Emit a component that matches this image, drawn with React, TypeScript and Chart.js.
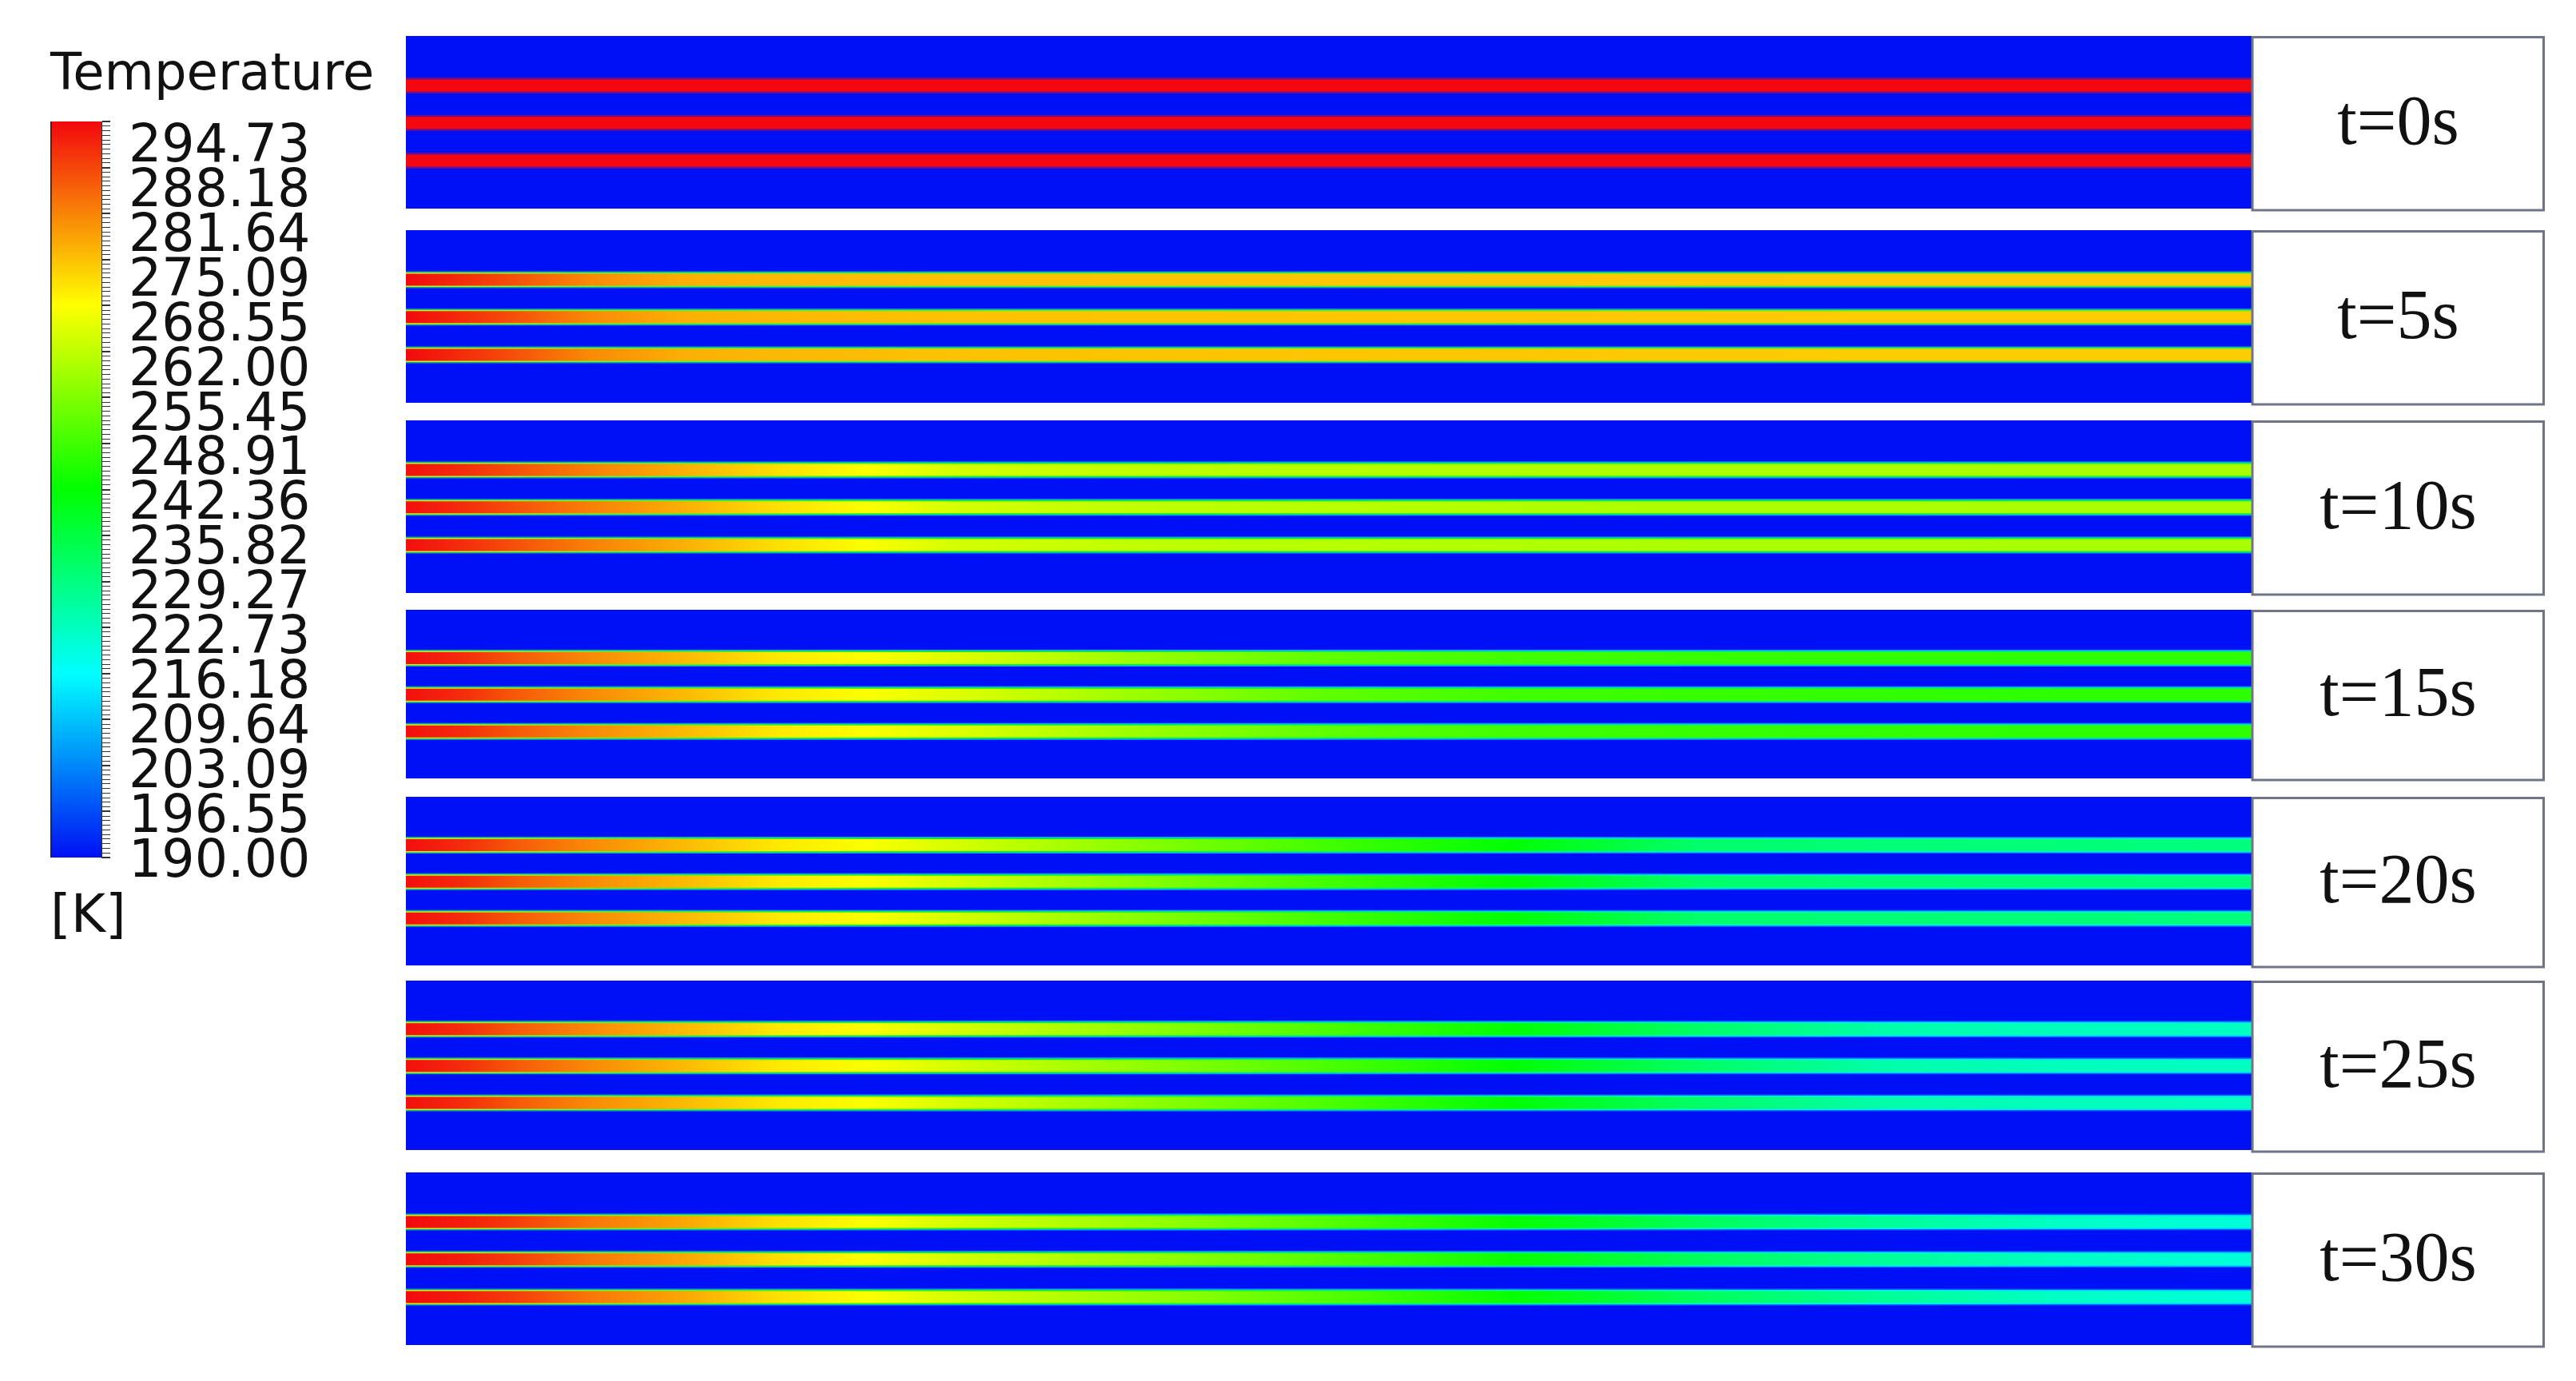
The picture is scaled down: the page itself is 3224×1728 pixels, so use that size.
import React, { useEffect, useRef } from 'react';
import { Chart, registerables } from 'chart.js';

Chart.register(...registerables);

// ---------------- data ----------------
const legendTitle = 'Temperature';
const legendUnit = '[K]';
const tempMin = 190.0;
const tempMax = 294.73;
const legendTickLabels = [
  '294.73', '288.18', '281.64', '275.09', '268.55', '262.00', '255.45', '248.91',
  '242.36', '235.82', '229.27', '222.73', '216.18', '209.64', '203.09', '196.55', '190.00',
];
const legendTickValues = legendTickLabels.map(Number);

const timeLabels = ['t=0s', 't=5s', 't=10s', 't=15s', 't=20s', 't=25s', 't=30s'];

// axial position along the domain (fraction of length)
const axialPositions = [0, 0.03, 0.06, 0.1, 0.15, 0.2, 0.25, 0.3, 0.4, 0.5, 0.6, 0.7, 0.8, 0.9, 1.0];
// channel centre heights (fraction of domain height, from bottom)
const channelHeights = [0.713, 0.496, 0.278];

// channel core temperature [K] along the axial positions, per time
const tempT0 = [294.73, 294.73, 294.73, 294.73, 294.73, 294.73, 294.73, 294.73, 294.73, 294.73, 294.73, 294.73, 294.73, 294.73, 294.73];
const tempT5 = [294.5, 291, 287, 281, 277, 276, 275.5, 275, 274.8, 274.6, 274.4, 274.2, 274, 274, 274];
const tempT10 = [294, 291, 287, 282, 277, 272, 268, 264, 262, 261, 260.5, 260, 260, 259.5, 259.5];
const tempT15 = [294, 291, 286, 281, 276, 271, 268, 265, 258, 252, 249, 248, 247.5, 247, 247];
const tempT20 = [294, 291, 286, 281, 276, 271, 268, 264, 256, 249, 242, 231.5, 230.5, 230, 229.5];
const tempT25 = [294, 291, 286, 281, 276, 271, 268, 264, 257, 250, 242, 232, 225, 223, 222.5];
const tempT30 = [294.5, 292.5, 289, 283, 278, 272, 268, 264, 258, 251, 243, 233, 227, 222, 220];
const panelTemps = [tempT0, tempT5, tempT10, tempT15, tempT20, tempT25, tempT30];

// ---------------- layout / style ----------------
const PANEL_LEFT = 508;
const CONTOUR_W = 2310;
const BOX_W = 367;
const PANEL_CANVAS_W = 2680;
const panelTops = [45, 288, 526, 763, 997, 1227, 1467];
const panelHeights = [216, 216, 216, 211, 211, 212, 216];

const JET: number[][] = [
  [0, 16, 244],
  [0, 255, 255],
  [0, 255, 0],
  [255, 255, 0],
  [242, 8, 14],
];
const BG_BLUE = 'rgb(0,16,244)';

function jetRGB(t: number): number[] {
  let f = (t - tempMin) / (tempMax - tempMin);
  f = Math.max(0, Math.min(1, f));
  const s = f * 4;
  const i = Math.min(3, Math.floor(s));
  const r = s - i;
  const a = JET[i];
  const b = JET[i + 1];
  return [0, 1, 2].map((k) => Math.round(a[k] + (b[k] - a[k]) * r));
}
function rgba(c: number[], a: number) {
  return `rgba(${c[0]},${c[1]},${c[2]},${a})`;
}

function stripeGradient(chart: any, temps: number[], level: number, alpha: number) {
  const { ctx, chartArea, scales } = chart;
  if (!chartArea || !scales || !scales.x) return rgba(jetRGB(temps[0]), alpha);
  const xs = scales.x;
  const p0 = xs.getPixelForValue(axialPositions[0]);
  const p1 = xs.getPixelForValue(axialPositions[axialPositions.length - 1]);
  const g = ctx.createLinearGradient(p0, 0, p1, 0);
  axialPositions.forEach((x: number, i: number) => {
    const t = tempMin + level * (temps[i] - tempMin);
    const off = (xs.getPixelForValue(x) - p0) / (p1 - p0);
    g.addColorStop(Math.max(0, Math.min(1, off)), rgba(jetRGB(t), alpha));
  });
  return g;
}

const panelDeco = {
  id: 'panelDeco',
  beforeDraw(chart: any) {
    const { ctx, chartArea } = chart;
    ctx.save();
    ctx.fillStyle = BG_BLUE;
    ctx.fillRect(chartArea.left, chartArea.top, chartArea.right - chartArea.left, chartArea.bottom - chartArea.top);
    ctx.restore();
  },
  afterDraw(chart: any, _args: any, opts: any) {
    const { ctx, chartArea } = chart;
    const x0 = chartArea.right;
    const x1 = chartArea.right + opts.boxWidth;
    const y0 = chartArea.top + 1.5;
    const y1 = chartArea.bottom + 2;
    ctx.save();
    ctx.strokeStyle = '#6f7486';
    ctx.lineWidth = 3;
    ctx.strokeRect(x0 + 1, y0, x1 - x0 - 2.5, y1 - y0);
    ctx.fillStyle = '#111';
    ctx.font = '88px "Liberation Serif", "Times New Roman", serif';
    ctx.textAlign = 'center';
    ctx.textBaseline = 'middle';
    ctx.fillText(opts.label, (x0 + x1) / 2, (y0 + y1) / 2 + 2);
    ctx.restore();
  },
};

function Panel({ index }: { index: number }) {
  const ref = useRef<HTMLCanvasElement>(null);
  useEffect(() => {
    const temps = panelTemps[index];
    const uniform = temps.every((v) => v === temps[0]);
    // outer glow first, core last; `order` puts the core on top
    const layers = uniform
      ? [
          { width: 20, level: 1, alpha: 0.45 },
          { width: 15, level: 1, alpha: 1 },
        ]
      : [
          { width: 21, level: 0.4, alpha: 0.65 },
          { width: 18, level: 0.72, alpha: 0.9 },
          { width: 15, level: 1, alpha: 1 },
        ];
    const datasets: any[] = [];
    channelHeights.forEach((h) => {
      layers.forEach((L, li) => {
        datasets.push({
          data: axialPositions.map((x) => ({ x, y: h })),
          order: layers.length - li,
          borderWidth: L.width,
          borderColor: (c: any) => stripeGradient(c.chart, temps, L.level, L.alpha),
          pointRadius: 0,
          pointHoverRadius: 0,
          tension: 0,
          borderCapStyle: 'butt',
          fill: false,
        });
      });
    });
    const chart = new Chart(ref.current as HTMLCanvasElement, {
      type: 'line',
      data: { datasets },
      plugins: [panelDeco],
      options: {
        responsive: false,
        animation: false,
        layout: { padding: { left: 0, top: 0, right: PANEL_CANVAS_W - CONTOUR_W, bottom: 4 } },
        scales: {
          x: { type: 'linear', min: 0, max: 1, display: false },
          y: { type: 'linear', min: 0, max: 1, display: false },
        },
        plugins: {
          legend: { display: false },
          tooltip: { enabled: false },
          panelDeco: { label: timeLabels[index], boxWidth: BOX_W },
        } as any,
        events: [],
      },
    } as any);
    return () => chart.destroy();
  }, [index]);
  return (
    <canvas
      ref={ref}
      width={PANEL_CANVAS_W}
      height={panelHeights[index] + 4}
      style={{
        position: 'absolute',
        left: PANEL_LEFT,
        top: panelTops[index],
        width: PANEL_CANVAS_W,
        height: panelHeights[index] + 4,
      }}
    />
  );
}

// colour bar geometry
const CB_W = 520;
const CB_H = 1200;
const BAR_RIGHT = 127;
const TICK_AXIS_W = 14;
const LABEL_AXIS_W = 360;
const BAR_TOP = 152;
const BAR_BOTTOM = 1073;
const LABEL_TICK_TOP = 165;
const LABEL_TICK_BOTTOM = 1060;
const LABEL_OFFSET = 20;

function ColorBar() {
  const ref = useRef<HTMLCanvasElement>(null);
  useEffect(() => {
    const k = (LABEL_TICK_BOTTOM - LABEL_TICK_TOP) / (tempMax - tempMin);
    const y2Max = tempMax + (LABEL_TICK_TOP - BAR_TOP) / k;
    const y2Min = tempMin - (BAR_BOTTOM - LABEL_TICK_BOTTOM) / k;
    const minor: number[] = [];
    const sub = 10;
    const step = (tempMax - tempMin) / (legendTickValues.length - 1) / sub;
    const nMinor = (legendTickValues.length - 1) * sub;
    for (let i = 0; i <= nMinor; i++) minor.push(tempMin + i * step);

    const titleSize = 64;
    const titleLine = titleSize * 1.2;

    const chart = new Chart(ref.current as HTMLCanvasElement, {
      type: 'bar',
      data: {
        labels: [legendTitle],
        datasets: [
          {
            data: [[tempMin, tempMax]],
            yAxisID: 'y',
            barPercentage: 1,
            categoryPercentage: 1,
            borderSkipped: false,
            borderWidth: { left: 2, top: 0, right: 0, bottom: 0 },
            borderColor: '#222',
            backgroundColor: (c: any) => {
              const ch = c.chart;
              if (!ch.chartArea || !ch.scales.y) return 'blue';
              const y = ch.scales.y;
              const g = ch.ctx.createLinearGradient(0, y.getPixelForValue(tempMin), 0, y.getPixelForValue(tempMax));
              for (let i = 0; i <= 4; i++) g.addColorStop(i / 4, rgba(JET[i], 1));
              return g;
            },
          },
        ],
      },
      options: {
        responsive: false,
        animation: false,
        events: [],
        layout: {
          padding: {
            left: 63,
            top: 95 - titleLine / 2,
            right: CB_W - BAR_RIGHT - TICK_AXIS_W - LABEL_AXIS_W,
            bottom: CB_H - BAR_BOTTOM - 36 - 79.2,
          },
        },
        scales: {
          x: { type: 'category', display: false },
          y: {
            type: 'linear',
            position: 'right',
            weight: 0,
            min: tempMin,
            max: tempMax,
            afterBuildTicks: (s: any) => {
              s.ticks = minor.map((v) => ({ value: v }));
            },
            afterFit: (s: any) => {
              s.width = TICK_AXIS_W;
            },
            ticks: { display: false, autoSkip: false },
            grid: {
              drawOnChartArea: false,
              drawTicks: true,
              tickLength: 11,
              color: '#333',
              lineWidth: (c: any) => (c.index % sub === 0 ? 2 : 1),
            },
            border: { display: true, color: '#333', width: 1 },
          },
          y2: {
            type: 'linear',
            position: 'right',
            weight: 1,
            min: y2Min,
            max: y2Max,
            afterBuildTicks: (s: any) => {
              s.ticks = legendTickValues.map((v) => ({ value: v }));
            },
            afterFit: (s: any) => {
              s.width = LABEL_AXIS_W;
            },
            ticks: {
              autoSkip: false,
              padding: 12,
              labelOffset: LABEL_OFFSET,
              color: '#111',
              font: { family: '"DejaVu Sans", sans-serif', size: 65, weight: 'normal' },
              callback: (_v: any, i: number) => legendTickLabels[i],
            },
            grid: { display: false },
            border: { display: false },
          },
        },
        plugins: {
          legend: { display: false },
          tooltip: { enabled: false },
          title: {
            display: true,
            text: legendTitle,
            align: 'start',
            color: '#111',
            font: { family: '"DejaVu Sans", sans-serif', size: titleSize, weight: 'normal', lineHeight: 1.2 },
            padding: { top: 0, bottom: BAR_TOP - 95 - titleLine / 2 },
          },
          subtitle: {
            display: true,
            position: 'bottom',
            text: legendUnit,
            align: 'start',
            color: '#111',
            font: { family: '"DejaVu Sans", sans-serif', size: 66, weight: 'normal', lineHeight: 1.2 },
            padding: { top: 36, bottom: 0 },
          },
        },
      },
    } as any);
    return () => chart.destroy();
  }, []);
  return (
    <canvas
      ref={ref}
      width={CB_W}
      height={CB_H}
      style={{ position: 'absolute', left: 0, top: 0, width: CB_W, height: CB_H }}
    />
  );
}

export default function App() {
  return (
    <div style={{ position: 'absolute', left: 0, top: 0, width: 3224, height: 1728, background: '#ffffff', overflow: 'hidden' }}>
      <ColorBar />
      {timeLabels.map((_, i) => (
        <Panel key={i} index={i} />
      ))}
    </div>
  );
}
